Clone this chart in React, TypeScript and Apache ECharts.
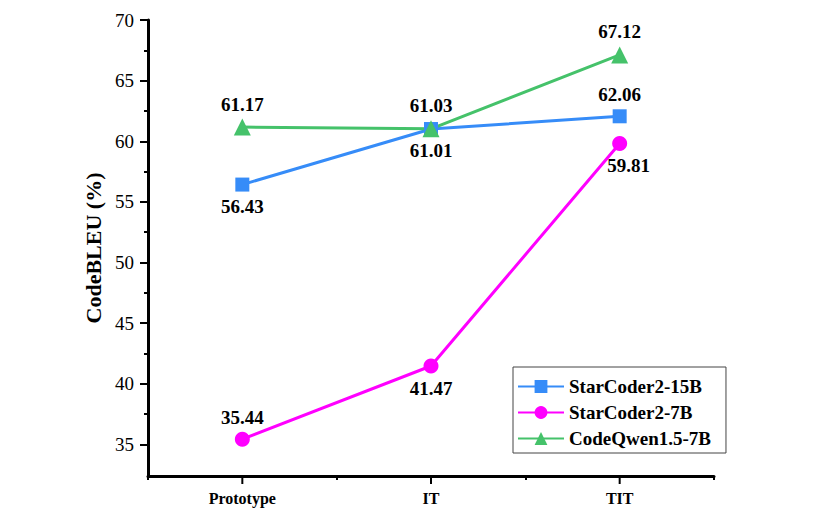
import React, { useEffect, useRef } from "react";
import * as echarts from "echarts";

const categories = ["Prototype", "IT", "TIT"];
const starCoder15B = [56.43, 61.01, 62.06];
const starCoder7B = [35.44, 41.47, 59.81];
const codeQwen7B = [61.17, 61.03, 67.12];
const yMajorTicks = [35, 40, 45, 50, 55, 60, 65, 70];
const yMinorTicks = [37.5, 42.5, 47.5, 52.5, 57.5, 62.5, 67.5];
const xMajorTicks = [0, 1, 2];
const xMinorTicks = [-0.5, 0.5, 1.5, 2.5];
const Y_MIN = 32.4;
const Y_MAX = 70;

const FONT = "Liberation Serif";

export default function App() {
  const ref = useRef<HTMLDivElement>(null);
  useEffect(() => {
    if (!ref.current) return;
    const chart = echarts.init(ref.current, null, { renderer: "svg" });
    const labelStyle = {
      show: true,
      fontFamily: FONT,
      fontWeight: "bold" as const,
      fontSize: 19,
      color: "#000",
      formatter: (p: any) => Number(p.value[1]).toFixed(2),
    };
    const mk = (name: string, data: number[], color: string, symbol: string, size: number, positions: string[], offsets: number[][]) => ({
      name,
      type: "line",
      xAxisIndex: 0,
      yAxisIndex: 0,
      symbol,
      symbolSize: size,
      lineStyle: { color, width: 3 },
      itemStyle: { color },
      data: data.map((v, i) => ({
        value: [i, v],
        label: { ...labelStyle, position: positions[i], offset: offsets[i] },
      })),
      label: labelStyle,
      z: 3,
    });
    const xCommon = { type: "value", min: -0.5, max: 2.5, position: "bottom", splitLine: { show: false } };
    const yCommon = { type: "value", min: Y_MIN, max: Y_MAX, position: "left", splitLine: { show: false } };
    const tickStyle = { color: "#000", width: 2 };
    chart.setOption({
      animation: false,
      textStyle: { fontFamily: FONT },
      grid: { left: 148, right: 117, top: 20, bottom: 42, containLabel: false },
      legend: {
        orient: "vertical",
        left: 513,
        top: 367,
        itemWidth: 46,
        itemHeight: 16,
        itemGap: 7,
        padding: [10, 15, 5, 4],
        borderColor: "#444",
        borderWidth: 1,
        textStyle: { fontFamily: FONT, fontWeight: "bold", fontSize: 19, color: "#000", lineHeight: 18 },
        data: ["StarCoder2-15B", "StarCoder2-7B", "CodeQwen1.5-7B"],
      },
      xAxis: [
        {
          ...xCommon,
          axisLine: { show: true, onZero: false, lineStyle: { color: "#000", width: 3 } },
          axisTick: { show: false },
          axisLabel: {
            customValues: xMajorTicks,
            formatter: (v: number) => categories[Math.round(v)] ?? "",
            fontFamily: FONT, fontWeight: "bold", fontSize: 16, color: "#000", margin: 14,
          },
        },
        {
          ...xCommon,
          axisLine: { show: false, onZero: false },
          axisTick: { show: true, customValues: xMinorTicks, length: 4, lineStyle: tickStyle },
          axisLabel: { show: false },
        },
      ],
      yAxis: [
        {
          ...yCommon,
          name: "CodeBLEU (%)",
          nameLocation: "middle",
          nameGap: 42,
          nameTextStyle: { fontFamily: FONT, fontWeight: "bold", fontSize: 22, color: "#000" },
          axisLine: { show: true, onZero: false, lineStyle: { color: "#000", width: 3 } },
          axisTick: { show: false },
          axisLabel: { customValues: yMajorTicks, fontFamily: FONT, fontSize: 19, color: "#000", margin: 14 },
        },
        {
          ...yCommon,
          axisLine: { show: false, onZero: false },
          axisTick: { show: true, customValues: yMajorTicks, length: 8, lineStyle: tickStyle },
          axisLabel: { show: false },
        },
        {
          ...yCommon,
          axisLine: { show: false, onZero: false },
          axisTick: { show: true, customValues: yMinorTicks, length: 4, lineStyle: tickStyle },
          axisLabel: { show: false },
        },
      ],
      series: [
        mk("StarCoder2-15B", starCoder15B, "#368CF8", "rect", 14, ["bottom", "bottom", "top"], [[0, 0], [0, 0], [0, 0]]),
        mk("StarCoder2-7B", starCoder7B, "#FF00FF", "circle", 15, ["top", "bottom", "bottom"], [[0, 0], [0, 0], [9, 0]]),
        mk("CodeQwen1.5-7B", codeQwen7B, "#45C26A", "triangle", 17, ["top", "top", "top"], [[0, 0], [0, 0], [0, 0]]),
      ],
    });
    // Major x ticks at category centres, positioned through the axis scales.
    const yBase = chart.convertToPixel({ yAxisIndex: 0 }, Y_MIN) as number;
    const tickGraphics = xMajorTicks.map((v) => {
      const x = chart.convertToPixel({ xAxisIndex: 0 }, v) as number;
      return {
        type: "line",
        shape: { x1: x, y1: yBase, x2: x, y2: yBase + 8 },
        style: { stroke: "#000", lineWidth: 2 },
        z: 10,
      };
    });
    chart.setOption({ graphic: tickGraphics });
    return () => chart.dispose();
  }, []);
  return <div ref={ref} style={{ width: 831, height: 518, position: "absolute", left: 0, top: 0 }} />;
}
